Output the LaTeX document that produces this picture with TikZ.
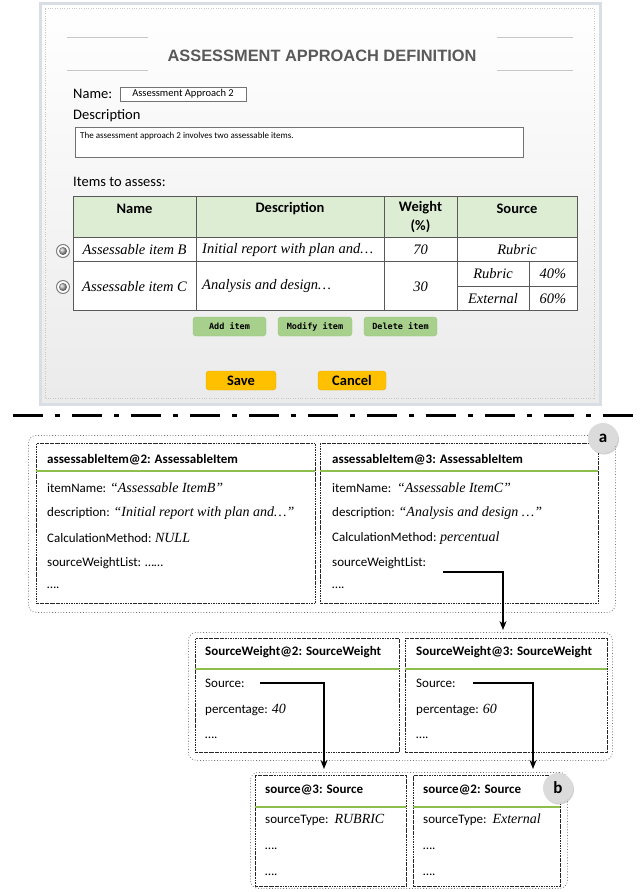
\documentclass[tikz,border=0pt]{standalone}
\usepackage{fontspec}
\usetikzlibrary{arrows.meta,shadows}
\newfontfamily\calfont{Carlito}
\newfontfamily\arialfont{Liberation Sans}
\newfontfamily\btnfont{DejaVu Sans Mono}
\newfontfamily\serfont{Liberation Serif}
\newcommand\fsz[1]{\fontsize{#1}{#1}\selectfont}
\newcommand\valf{\serfont\itshape\fsz{14}}
\definecolor{hdrgreen}{HTML}{DDEDD3}
\definecolor{glinec}{HTML}{8CBF4B}
\definecolor{btngreen}{HTML}{A8D08D}
\definecolor{btnborder}{HTML}{98C47E}
\definecolor{goldc}{HTML}{FFC000}
\definecolor{goldb}{HTML}{E8AE00}
\definecolor{framec}{HTML}{D9DEE4}
\definecolor{titlegray}{HTML}{595959}
\begin{document}
\begin{tikzpicture}[x=1pt,y=-1pt,
  txt/.style={anchor=west,inner sep=0pt},
  lbl/.style={txt,font=\calfont\fsz{14.5}},
  th/.style={inner sep=0pt,font=\calfont\bfseries\fsz{14.5}},
  td/.style={inner sep=0pt,font=\serfont\itshape\fsz{14.5}},
  tbl/.style={draw=black!65,line width=0.8pt},
  btn/.style={draw=btnborder,fill=btngreen,rounded corners=3pt,minimum height=19pt,inner sep=0pt,font=\btnfont\bfseries\fsz{8.5}},
  gbtn/.style={draw=goldb,fill=goldc,rounded corners=3pt,minimum height=19pt,inner sep=0pt,font=\calfont\bfseries\fsz{14.5}},
  grp/.style={draw=black!55,dotted,line width=0.8pt,rounded corners=8pt,anchor=north west,inner sep=0pt},
  objbox/.style={draw=black!85,line width=0.8pt,dash pattern=on 2.5pt off 0.8pt on 0.8pt off 0.8pt,anchor=north west,inner sep=0pt},
  gl/.style={draw=glinec,line width=1.6pt},
  otitle/.style={txt,font=\calfont\bfseries\fsz{13}},
  oattr/.style={txt,font=\calfont\fsz{13}},
  arr/.style={-{Stealth[length=9pt,width=7pt]},line width=1.3pt},
  badge/.style={circle,fill=black!14,minimum size=30pt,inner sep=0pt,font=\calfont\bfseries\fsz{17},drop shadow={opacity=0.35,shadow xshift=1pt,shadow yshift=-1.5pt}},
  sep/.style={line width=3pt,dash pattern=on 30pt off 12pt on 5pt off 12pt},
  radio/.style={circle,draw=black!50,line width=1pt,fill=white,minimum size=13pt,inner sep=0pt}
]
\useasboundingbox (0,0) rectangle (642,892);
\fill[white] (0,0) rectangle (642,892);

% ---------- top panel ----------
\node[draw=framec,line width=3pt,top color=white,bottom color=black!8,minimum width=560pt,minimum height=401pt,inner sep=0pt] (panel) at (320,203.5) {};
\node[draw=black!22,dotted,minimum width=549pt,minimum height=390pt,inner sep=0pt] (paneldots) at (320,203.5) {};

\node[font=\arialfont\bfseries\fsz{16.4},text=titlegray,inner sep=0pt] (title) at (322,56) {ASSESSMENT APPROACH DEFINITION};
\coordinate (d1a) at (67,37); \coordinate (d1b) at (148,37);
\coordinate (d2a) at (67,70); \coordinate (d2b) at (148,70);
\coordinate (d3a) at (497,37); \coordinate (d3b) at (573,37);
\coordinate (d4a) at (497,70); \coordinate (d4b) at (573,70);
\draw[black!22,line width=1pt] (d1a)--(d1b) (d2a)--(d2b) (d3a)--(d3b) (d4a)--(d4b);

\node[lbl] (namelbl) at (73,94) {Name:};
\node[draw=black!55,fill=white,minimum width=126pt,minimum height=14pt,inner sep=0pt,font=\calfont\fsz{10.5}] (namebox) at (183,94) {Assessment Approach 2};
\node[lbl] (desclbl) at (73,116) {Description};
\node[draw=black!55,fill=white,minimum width=448pt,minimum height=30pt,inner sep=0pt] (descbox) at (299,142) {};
\node[txt,font=\calfont\fsz{9}] (desctxt) at (80,136) {The assessment approach 2 involves two assessable items.};
\node[lbl] (itemslbl) at (73,182) {Items to assess:};

% table
\fill[hdrgreen] (73,196) rectangle (577,237);
\fill[white] (73,237) rectangle (577,310);
\draw[tbl] (73,196) rectangle (577,310);
\draw[tbl] (73,237) -- (577,237) (73,261) -- (577,261) (457,286) -- (577,286);
\draw[tbl] (196,196) -- (196,310) (384,196) -- (384,310) (457,196) -- (457,310) (529,261) -- (529,310);

\node[th] (hname) at (134.5,209) {Name};
\node[th] (hdesc) at (290,209) {Description};
\node[th] (hw1) at (420.5,208) {Weight};
\node[th] (hw2) at (420.5,226) {(\%)};
\node[th] (hsrc) at (517,209) {Source};

\node[td] (b1) at (134.5,250) {Assessable item B};
\node[td,anchor=west] (b2) at (202,250) {Initial report with plan and\ldots};
\node[td] (b3) at (420.5,250) {70};
\node[td] (b4) at (517,250) {Rubric};
\node[td] (c1) at (134.5,286.5) {Assessable item C};
\node[td,anchor=west] (c2) at (202,286.5) {Analysis and design\ldots};
\node[td] (c3) at (420.5,286.5) {30};
\node[td] (c4) at (493,274) {Rubric};
\node[td] (c5) at (553,274) {40\%};
\node[td] (c6) at (493,298.5) {External};
\node[td] (c7) at (553,298.5) {60\%};

\node[radio] (r1) at (63,251) {};
\node[circle,ball color=black!30,minimum size=8pt,inner sep=0pt] (r1i) at (r1) {};
\node[radio] (r2) at (63,287) {};
\node[circle,ball color=black!30,minimum size=8pt,inner sep=0pt] (r2i) at (r2) {};

\node[btn,minimum width=73pt] (addb) at (229.5,326.5) {Add item};
\node[btn,minimum width=74pt] (modb) at (315,326.5) {Modify item};
\node[btn,minimum width=73pt] (delb) at (400.5,326.5) {Delete item};
\node[gbtn,minimum width=70pt] (saveb) at (241,380.5) {Save};
\node[gbtn,minimum width=68pt] (cancb) at (352,380.5) {Cancel};

% ---------- separator ----------
\coordinate (sepl) at (13,415); \coordinate (sepr) at (633,415);
\draw[sep] (sepl) -- (sepr);

% ---------- group a ----------
\node[grp,minimum width=587pt,minimum height=177pt] (grpa) at (28,435) {};
\node[objbox,minimum width=279pt,minimum height=160pt] (ai2) at (36,443) {};
\node[objbox,minimum width=278pt,minimum height=160pt] (ai3) at (320,443) {};
\draw[gl] (36,471) -- (315,471);
\draw[gl] (320,471) -- (598,471);

\node[otitle] (ai2t) at (47,460) {assessableItem@2: AssessableItem};
\node[oattr] (ai2a) at (47,488) {itemName: {\valf “Assessable ItemB”}};
\node[oattr] (ai2b) at (47,513) {description: {\valf “Initial report with plan and\ldots”}};
\node[oattr] (ai2c) at (47,538) {CalculationMethod:{\valf\ NULL}};
\node[oattr] (ai2d) at (47,563) {sourceWeightList: \ldots\ldots};
\node[oattr] (ai2e) at (47,588) {\ldots.};

\node[otitle] (ai3t) at (332,460) {assessableItem@3: AssessableItem};
\node[oattr] (ai3a) at (332,488) {itemName:\ \ {\valf “Assessable ItemC”}};
\node[oattr] (ai3b) at (332,513) {description: {\valf “Analysis and design \ldots”}};
\node[oattr] (ai3c) at (332,538) {CalculationMethod:{\valf\ percentual}};
\node[oattr] (ai3d) at (332,563) {sourceWeightList:};
\node[oattr] (ai3e) at (332,588) {\ldots.};

\node[badge] (bada) at (603,438) {a};

% ---------- group SourceWeight ----------
\node[grp,minimum width=424pt,minimum height=128pt] (grpb) at (188,632) {};
\node[objbox,minimum width=204pt,minimum height=114pt] (sw2) at (195,638) {};
\node[objbox,minimum width=202pt,minimum height=114pt] (sw3) at (405,638) {};
\draw[gl] (195,669) -- (399,669);
\draw[gl] (405,669) -- (607,669);

\node[otitle] (sw2t) at (205,652) {SourceWeight@2: SourceWeight};
\node[oattr] (sw2a) at (205,683) {Source:};
\node[oattr] (sw2b) at (205,710) {percentage: {\valf 40}};
\node[oattr] (sw2c) at (205,738) {\ldots.};

\node[otitle] (sw3t) at (416,652) {SourceWeight@3: SourceWeight};
\node[oattr] (sw3a) at (416,683) {Source:};
\node[oattr] (sw3b) at (416,710) {percentage: {\valf 60}};
\node[oattr] (sw3c) at (416,738) {\ldots.};

% ---------- group Source ----------
\node[grp,minimum width=317pt,minimum height=116pt] (grpc) at (250,772) {};
\node[objbox,minimum width=151pt,minimum height=111pt] (s3) at (255,775) {};
\node[objbox,minimum width=147pt,minimum height=111pt] (s2) at (413,775) {};
\draw[gl] (255,807) -- (406,807);
\draw[gl] (413,807) -- (560,807);

\node[otitle] (s3t) at (265,790) {source@3: Source};
\node[oattr] (s3a) at (265,820) {sourceType:\ \ {\valf RUBRIC}};
\node[oattr] (s3b) at (265,849) {\ldots.};
\node[oattr] (s3c) at (265,875) {\ldots.};

\node[otitle] (s2t) at (423,790) {source@2: Source};
\node[oattr] (s2a) at (423,820) {sourceType:\ \ {\valf External}};
\node[oattr] (s2b) at (423,849) {\ldots.};
\node[oattr] (s2c) at (423,875) {\ldots.};

\node[badge] (badb) at (558,788) {b};

% ---------- arrows ----------
\coordinate (a1s) at (443,572); \coordinate (a1e) at (503,630);
\coordinate (a2s) at (260,683); \coordinate (a2e) at (324,769);
\coordinate (a3s) at (473,683); \coordinate (a3e) at (533,769);
\draw[arr] (a1s) -| (a1e);
\draw[arr] (a2s) -| (a2e);
\draw[arr] (a3s) -| (a3e);
\end{tikzpicture}
\end{document}
